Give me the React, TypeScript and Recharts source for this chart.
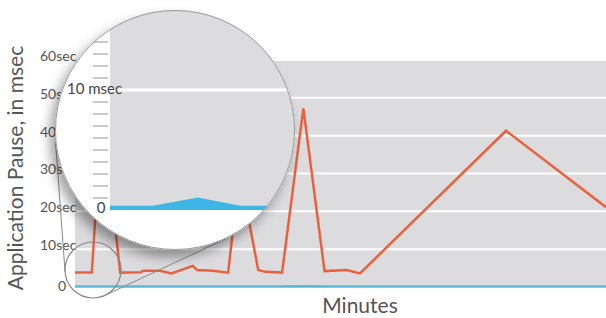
import React from 'react';
import { LineChart, Line, AreaChart, Area, XAxis, YAxis, CartesianGrid, Label } from 'recharts';

// main chart: pause time per sample, in seconds
const minutes = [0, 1.9, 3.1, 5.1, 7.4, 7.7, 9.6, 10.9, 13.3, 13.8, 15.6, 17.3, 18.6, 20.7, 21.5, 23.4, 25.8, 28.2, 30.7, 32.2, 48.7, 60];
const pauseSec = [3.8, 3.8, 48, 3.8, 3.9, 4.3, 4.3, 3.6, 5.6, 4.5, 4.3, 3.8, 30.5, 4.5, 4.0, 3.8, 47.2, 4.2, 4.5, 3.6, 41.3, 21.1];
const otherSec = [0.1, 0.1, 0.1, 0.1, 0.1, 0.1, 0.1, 0.1, 0.1, 0.1, 0.1, 0.1, 0.1, 0.1, 0.1, 0.1, 0.2, 0.1, 0.1, 0.1, 0.1, 0.1];
const yTicks = [0, 10, 20, 30, 40, 50, 60];

// magnified inset: pause in msec
const insetX = [0, 2.2, 4.5, 6.7, 10];
const insetMs = [0.35, 0.35, 1.05, 0.35, 0.35];
const insetTicks = [0, 1, 2, 3, 4, 5, 6, 7, 8, 9, 10, 11, 12, 13, 14, 15, 16, 17, 18];

const mainData = minutes.map((t, i) => ({ t, pause: pauseSec[i], other: otherSec[i] }));
const insetData = insetX.map((t, i) => ({ t, ms: insetMs[i] }));

const FONT = 'Lato, "Open Sans", sans-serif';
const TEXT = '#555';

// lens geometry
const big = { cx: 175, cy: 130, r: 120 };
const small = { cx: 93, cy: 270, r: 28 };

function tangents() {
  const dx = big.cx - small.cx;
  const dy = big.cy - small.cy;
  const d = Math.hypot(dx, dy);
  const base = Math.atan2(dy, dx);
  const off = Math.acos(-(big.r - small.r) / d);
  return [base + off, base - off].map((a) => {
    const nx = Math.cos(a);
    const ny = Math.sin(a);
    return {
      x1: small.cx + small.r * nx,
      y1: small.cy + small.r * ny,
      x2: big.cx + big.r * nx,
      y2: big.cy + big.r * ny,
    };
  });
}

const MainTick = (props: any) => {
  const { y, payload } = props;
  if (payload.value === 0) {
    return (
      <text x={62} y={y - 1} dy="0.35em" textAnchor="middle" fontSize={14} fill={TEXT} fontFamily={FONT}>
        0
      </text>
    );
  }
  return (
    <text x={40} y={y - 4} dy="0.35em" textAnchor="start" fontSize={14} fill={TEXT} fontFamily={FONT}>
      {payload.value}sec
    </text>
  );
};

const InsetTick = (props: any) => {
  const { y, payload } = props;
  if (payload.value === 0) {
    return (
      <text x={46} y={y - 2} dy="0.35em" textAnchor="middle" fontSize={15} fill="#444" fontFamily={FONT}>
        0
      </text>
    );
  }
  if (payload.value === 10) {
    return (
      <text x={12} y={y - 1} dy="0.35em" textAnchor="start" fontSize={15} fill="#444" fontFamily={FONT}>
        10 msec
      </text>
    );
  }
  return <line x1={38} x2={53} y1={y} y2={y} stroke="#b8b8b8" strokeWidth={1.5} />;
};

export default function App() {
  const lines = tangents();
  return (
    <div style={{ position: 'fixed', left: 0, top: 0, width: 606, height: 318, overflow: 'hidden', background: '#fff', fontFamily: FONT }}>
      <LineChart width={606} height={318} data={mainData} margin={{ top: 60, right: 0, bottom: 0, left: 0 }}>
        <CartesianGrid vertical={false} stroke="#ffffff" strokeWidth={2} fill="#dcdcde" />
        <XAxis type="number" dataKey="t" domain={[0, 60]} tick={false} axisLine={false} tickLine={false} height={31}>
          <Label
            content={() => (
              <text x={360} y={306} dy="0.35em" textAnchor="middle" fontSize={21} fill={TEXT} fontFamily={FONT}>
                Minutes
              </text>
            )}
          />
        </XAxis>
        <YAxis type="number" domain={[0, 60]} ticks={yTicks} width={75} axisLine={false} tickLine={false} tick={<MainTick />}>
          <Label
            content={() => (
              <text x={16} y={168} dy="0.35em" transform="rotate(-90, 16, 168)" textAnchor="middle" fontSize={21} fill={TEXT} fontFamily={FONT}>
                Application Pause, in msec
              </text>
            )}
          />
        </YAxis>
        <Line type="linear" dataKey="other" stroke="#5ab8d8" strokeWidth={2.5} dot={false} isAnimationActive={false} />
        <Line type="linear" dataKey="pause" stroke="#e8623f" strokeWidth={2.5} dot={false} isAnimationActive={false} />
      </LineChart>

      {/* lens outline and connecting lines */}
      <svg width={606} height={318} style={{ position: 'absolute', left: 0, top: 0, pointerEvents: 'none' }}>
        <circle cx={small.cx} cy={small.cy} r={small.r} fill="none" stroke="#8a8a8a" strokeWidth={1.2} />
        {lines.map((l, i) => (
          <line key={i} {...l} stroke="#8a8a8a" strokeWidth={1} />
        ))}
      </svg>

      {/* magnified view */}
      <div
        style={{
          position: 'absolute',
          left: big.cx - big.r,
          top: big.cy - big.r,
          width: big.r * 2,
          height: big.r * 2,
          borderRadius: '50%',
          overflow: 'hidden',
          background: '#fff',
          boxShadow: '-5px 7px 12px rgba(0,0,0,0.38)',
        }}
      >
        <div style={{ position: 'absolute', left: 0, top: -20 }}>
          <AreaChart width={260} height={240} data={insetData} margin={{ top: 4, right: 10, bottom: 20, left: 0 }}>
            <CartesianGrid vertical={false} horizontalValues={[10]} stroke="#ffffff" strokeWidth={3} fill="#dcdcde" />
            <XAxis type="number" dataKey="t" domain={[0, 10]} hide />
            <YAxis type="number" domain={[0, 18]} ticks={insetTicks} interval={0} width={55} axisLine={false} tickLine={false} tick={<InsetTick />} />
            <Area type="linear" dataKey="ms" stroke="none" fill="#3db6e6" fillOpacity={1} isAnimationActive={false} />
          </AreaChart>
        </div>
      </div>
      <div
        style={{
          position: 'absolute',
          left: big.cx - big.r,
          top: big.cy - big.r,
          width: big.r * 2,
          height: big.r * 2,
          borderRadius: '50%',
          border: '1.5px solid #9a9a9a',
          boxSizing: 'border-box',
          pointerEvents: 'none',
        }}
      />
    </div>
  );
}
